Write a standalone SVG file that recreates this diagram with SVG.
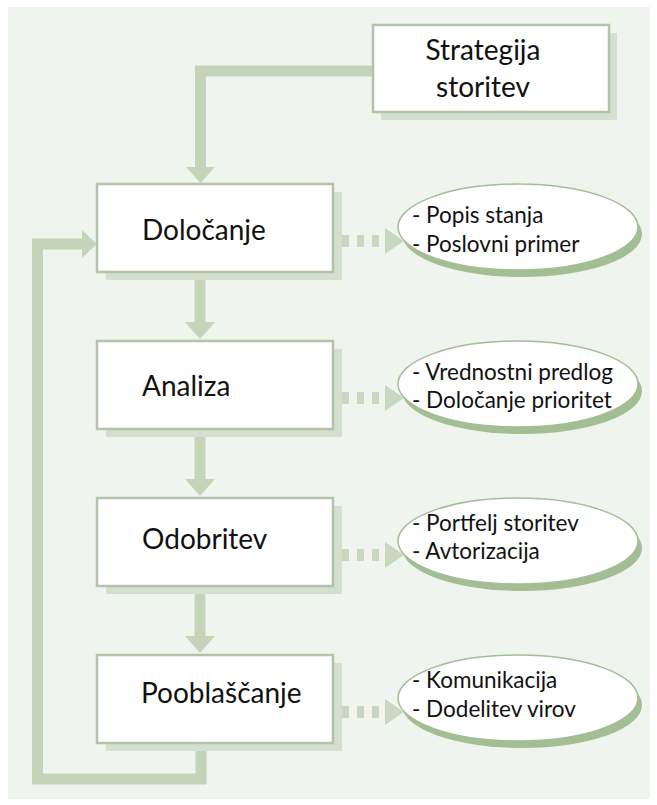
<svg xmlns="http://www.w3.org/2000/svg" width="657" height="805" viewBox="0 0 657 805">
  <defs>
    <style>
      .panel { fill: #eff5ee; }
      .box { fill: #ffffff; stroke: #b2c3a7; stroke-width: 2.5; }
      .box-shadow { fill: #d5dfcf; }
      .label { font-family: Lato, "Liberation Sans", sans-serif; font-size: 28px; fill: #111111; }
      .note { font-family: Lato, "Liberation Sans", sans-serif; font-size: 22.5px; fill: #111111; }
      .ell { fill: #ffffff; stroke: #a4bd96; stroke-width: 1.5; }
      .ell-shadow { fill: #a3be93; }
      .flow { fill: none; stroke: #c3d4b9; stroke-width: 11; stroke-linejoin: miter; stroke-linecap: butt; }
      .head { fill: #c3d4b9; }
      .dot { fill: #c8d8c0; }
    </style>
  </defs>

  <rect x="0" y="0" width="657" height="805" fill="#ffffff"/>
  <rect class="panel" x="8" y="7" width="642" height="792"/>

  <!-- connectors -->
  <g id="connectors">
    <!-- strategy -> first step -->
    <polyline class="flow" points="374,71 200.5,71 200.5,168"/>
    <polygon class="head" points="186,167 215,167 200.5,183"/>

    <!-- vertical flow between steps -->
    <line class="flow" x1="200" y1="272" x2="200" y2="323" stroke-width="10"/>
    <polygon class="head" points="185,322 215,322 200,339"/>
    <line class="flow" x1="200" y1="429" x2="200" y2="480" stroke-width="10"/>
    <polygon class="head" points="185,479 215,479 200,496"/>
    <line class="flow" x1="200" y1="586" x2="200" y2="637" stroke-width="10"/>
    <polygon class="head" points="185,636 215,636 200,653"/>

    <!-- feedback loop back to the first step -->
    <polyline class="flow" points="201,742 201,779 37.5,779 37.5,244 83,244"/>
    <polygon class="head" points="82,230 97,244 82,258"/>

    <!-- dotted links to the notes -->
    <g id="dots1">
      <rect class="dot" x="342" y="235" width="7" height="12"/>
      <rect class="dot" x="357" y="235" width="7" height="12"/>
      <rect class="dot" x="372" y="235" width="7" height="12"/>
      <polygon class="dot" points="385,228 404,241 385,254"/>
    </g>
    <use href="#dots1" y="157"/>
    <use href="#dots1" y="314"/>
    <use href="#dots1" y="471"/>
  </g>

  <!-- top source box -->
  <g id="strategija">
    <rect class="box-shadow" x="381" y="33" width="236" height="87"/>
    <rect class="box" x="373" y="25" width="236" height="87"/>
    <text class="label" x="483" y="60" text-anchor="middle">Strategija</text>
    <text class="label" x="483" y="97" text-anchor="middle">storitev</text>
  </g>

  <!-- process steps -->
  <g id="dolocanje">
    <rect class="box-shadow" x="106" y="192" width="236" height="88"/>
    <rect class="box" x="97" y="184" width="236" height="88"/>
    <text class="label" x="142" y="240">Določanje</text>
  </g>
  <g id="analiza">
    <rect class="box-shadow" x="106" y="349" width="236" height="88"/>
    <rect class="box" x="97" y="341" width="236" height="88"/>
    <text class="label" x="142" y="396">Analiza</text>
  </g>
  <g id="odobritev">
    <rect class="box-shadow" x="106" y="506" width="236" height="88"/>
    <rect class="box" x="97" y="498" width="236" height="88"/>
    <text class="label" x="142" y="549">Odobritev</text>
  </g>
  <g id="pooblascanje">
    <rect class="box-shadow" x="106" y="663" width="236" height="88"/>
    <rect class="box" x="97" y="655" width="236" height="88"/>
    <text class="label" x="141" y="703">Pooblaščanje</text>
  </g>

  <!-- notes -->
  <g id="note-dolocanje">
    <ellipse class="ell-shadow" cx="522" cy="234" rx="120" ry="43"/>
    <ellipse class="ell" cx="518" cy="227" rx="120" ry="43"/>
    <text class="note" x="412" y="223">- Popis stanja</text>
    <text class="note" x="412" y="252">- Poslovni primer</text>
  </g>
  <g id="note-analiza">
    <ellipse class="ell-shadow" cx="522" cy="391" rx="120" ry="43"/>
    <ellipse class="ell" cx="518" cy="384" rx="120" ry="43"/>
    <text class="note" x="412" y="380">- Vrednostni predlog</text>
    <text class="note" x="412" y="408">- Določanje prioritet</text>
  </g>
  <g id="note-odobritev">
    <ellipse class="ell-shadow" cx="522" cy="548" rx="120" ry="43"/>
    <ellipse class="ell" cx="518" cy="541" rx="120" ry="43"/>
    <text class="note" x="412" y="531">- Portfelj storitev</text>
    <text class="note" x="412" y="559">- Avtorizacija</text>
  </g>
  <g id="note-pooblascanje">
    <ellipse class="ell-shadow" cx="522" cy="705" rx="120" ry="43"/>
    <ellipse class="ell" cx="518" cy="698" rx="120" ry="43"/>
    <text class="note" x="412" y="688">- Komunikacija</text>
    <text class="note" x="412" y="717">- Dodelitev virov</text>
  </g>
</svg>
